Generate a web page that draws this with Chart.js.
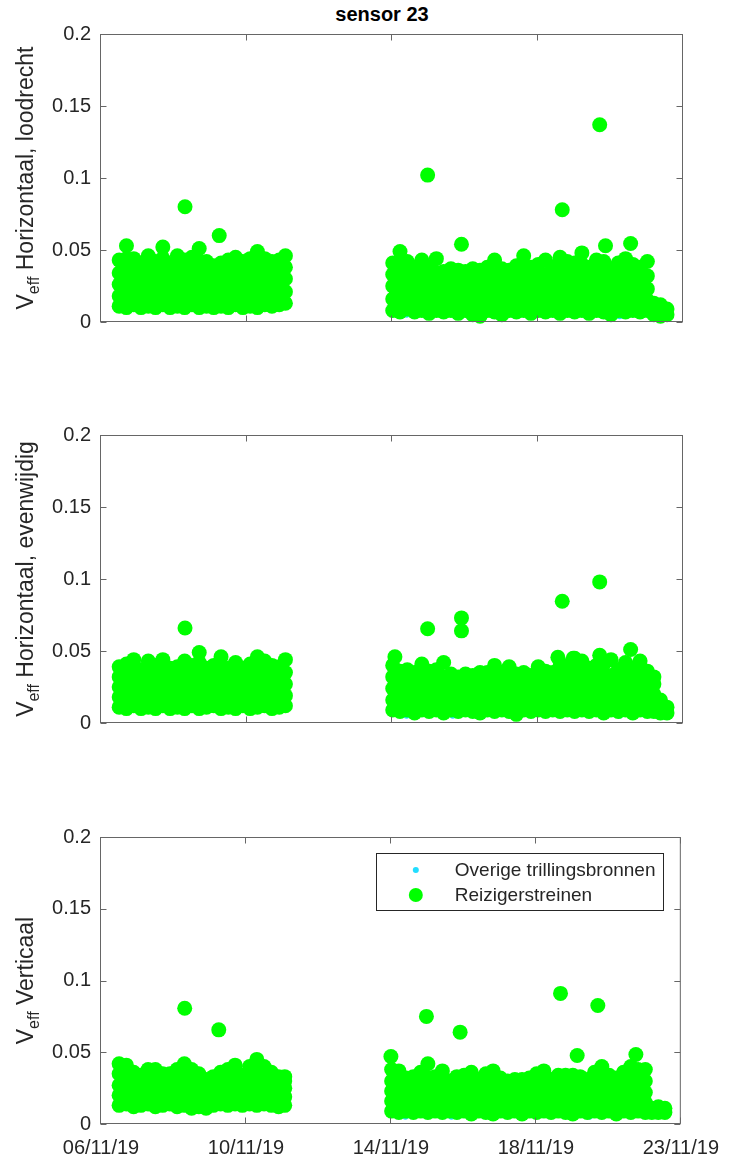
<!DOCTYPE html>
<html>
<head>
<meta charset="utf-8">
<script src="https://cdn.jsdelivr.net/npm/chart.js@4"></script>
<style>
  html, body { margin: 0; padding: 0; background: #fff; }
  #page { position: relative; width: 731px; height: 1160px; overflow: hidden; background: #fff; }
  #page canvas { position: absolute; left: 0; }
  #title { position: absolute; top: 3px; left: 91px; width: 582px; text-align: center;
           font: bold 20px "Liberation Sans", Arial, sans-serif; color: #000; }
</style>
</head>
<body>
<div id="page">
  <div id="title">sensor 23</div>
  <canvas id="c1" width="731" height="345" style="top:0px"></canvas>
  <canvas id="c2" width="731" height="345" style="top:400px"></canvas>
  <canvas id="c3" width="731" height="360" style="top:800px"></canvas>
</div>
<script>
// x axis: days since 06/11/19 00:00
const tickDays = [0, 4, 8, 12, 16];
const tickLabels = ["06/11/19", "10/11/19", "14/11/19", "18/11/19", "23/11/19"];
const yTicks = [0, 0.05, 0.1, 0.15, 0.2];

// times of the dense blocks of train passages (days)
const blockDays = [
  0.5, 0.7, 0.9, 1.1, 1.3, 1.5, 1.7, 1.9, 2.1, 2.3, 2.5, 2.7,
  2.9, 3.1, 3.3, 3.5, 3.7, 3.9, 4.1, 4.3, 4.5, 4.7, 4.9, 5.07,
  8.02, 8.22, 8.42, 8.62, 8.82, 9.02, 9.22, 9.42, 9.62, 9.82,
  10.02, 10.22, 10.42, 10.62, 10.82, 11.02, 11.22, 11.42, 11.62, 11.82,
  12.02, 12.22, 12.42, 12.62, 12.82, 13.02, 13.22, 13.42, 13.62, 13.82,
  14.02, 14.22, 14.42, 14.62, 14.82, 15.02, 15.2, 15.38, 15.56
];
// passages in between the block times (inside the dense band)
const innerDays = [
  0.6, 0.8, 1.0, 1.2, 1.4, 1.6, 1.8, 2.0, 2.2, 2.4, 2.6, 2.8,
  3.0, 3.2, 3.4, 3.6, 3.8, 4.0, 4.2, 4.4, 4.6, 4.8, 4.98,
  8.12, 8.32, 8.52, 8.72, 8.92, 9.12, 9.32, 9.52, 9.72, 9.92,
  10.12, 10.32, 10.52, 10.72, 10.92, 11.12, 11.32, 11.52, 11.72, 11.92,
  12.12, 12.32, 12.52, 12.72, 12.92, 13.12, 13.32, 13.52, 13.72, 13.92,
  14.12, 14.32, 14.52, 14.72, 14.92
];

// Veff values per block time, in thousandths (x1000)
const loodrecht = [
  [11,18,26,34,43], [10,18,27,36,44,53], [12,20,29,37,44], [10,17,27,35,41], [11,19,28,37,46], [10,18,26,34,42],
  [12,20,29,37,44,52], [10,17,25,33,40], [11,19,28,37,46], [10,18,27,36,43], [12,20,29,38,45], [10,18,26,34,42,51],
  [11,18,26,34,42], [10,17,25,32,39], [11,19,27,35,41], [10,18,27,36,43], [12,20,28,37,45], [10,18,26,34,42],
  [11,19,28,36,44], [10,18,26,34,42,49], [12,20,29,37,44], [11,19,27,35,42], [12,20,28,36,43], [13,21,30,38,46],
  [8,16,25,33,41], [7,15,23,31,40,49], [9,17,26,34,42], [7,15,23,31,38], [8,16,25,34,43], [6,14,22,30,38],
  [8,16,25,34,44], [7,14,21,28,35], [8,15,22,30,37], [6,13,21,29,36], [8,15,22,29,35], [5,13,21,29,37],
  [4,12,20,28,36], [8,15,23,31,38], [7,15,24,33,43], [5,13,21,29,37], [8,15,22,29,36], [7,14,22,30,39],
  [8,16,24,31,38,46], [6,14,22,30,38], [8,16,24,32,40], [7,15,24,33,43], [8,15,22,30,38], [6,14,22,30,38,45],
  [8,16,24,33,42], [7,15,23,32,41], [8,16,24,32,40,48], [6,14,22,30,38], [8,16,25,34,43], [7,15,24,33,42],
  [5,13,21,29,37], [8,16,24,33,41], [7,15,24,34,44], [8,16,24,32,40], [7,15,23,31,38], [8,15,23,32,42],
  [5,9,13], [4,8,12], [5,9]
];
const loodrechtInner = [
  [15,23,31], [14,22,31], [16,24,33], [15,22,30], [14,23,32], [16,24,32], [15,23,31], [14,22,30],
  [16,24,33], [15,23,32], [14,23,31], [16,24,32], [15,22,30], [14,22,30], [16,24,32], [15,23,31],
  [14,23,32], [16,24,32], [15,23,31], [14,23,32], [16,24,32], [15,23,31], [16,24,33],
  [12,19,27], [11,19,28], [12,20,27], [11,18,26], [12,20,28], [11,19,27], [12,19,27], [11,18,25],
  [12,19,26], [11,18,26], [12,19,26], [10,18,26], [11,19,27], [12,20,28], [10,18,26], [12,19,27],
  [11,19,27], [12,20,28], [11,19,27], [12,20,28], [11,19,28], [12,19,27], [11,20,28], [12,20,28],
  [11,19,28], [12,20,29], [11,19,27], [12,20,28], [11,19,28], [10,18,26], [12,20,28], [11,19,28],
  [12,20,28], [11,19,27], [12,19,27]
];
const evenwijdig = [
  [11,18,25,32,39], [10,17,25,33,41], [12,19,27,35,44], [10,17,24,31,37], [11,18,26,34,43], [10,17,25,33,40],
  [12,19,27,35,44], [10,17,24,31,38], [11,18,25,32,39], [10,17,25,34,43], [12,19,26,33,40], [10,18,26,34,42,49],
  [11,18,25,32,38], [12,19,26,33,40], [10,17,25,32,39,46], [11,18,25,32,38], [10,17,25,33,42], [12,19,26,32,38],
  [10,17,25,33,41], [11,18,25,32,39,46], [12,19,27,35,43], [10,17,25,33,40], [11,18,25,32,39], [12,19,27,35,44],
  [9,16,24,32,40], [8,15,22,29,36], [9,16,23,30,37], [7,14,21,28,35], [9,16,24,32,41], [8,15,22,29,36],
  [9,16,23,30,37], [7,15,23,32,42], [9,16,22,28,34], [8,14,20,26,32], [9,15,22,28,34], [8,15,21,27,33],
  [7,14,21,28,35], [9,15,22,29,35], [8,15,23,31,40], [9,16,23,29,35], [8,15,23,31,39], [6,13,20,27,34],
  [9,15,22,29,35], [8,14,20,26,33], [9,16,23,31,39], [8,15,22,29,36], [9,15,22,29,35], [8,15,23,32,40],
  [9,16,24,32,40], [8,16,24,32,39,45], [9,16,24,33,43], [8,15,23,31,38], [9,16,24,32,40], [7,15,23,32,41],
  [9,16,24,33,44], [8,15,22,30,37], [9,16,24,33,42], [7,14,22,30,38], [9,16,24,33,43], [8,15,22,29,36],
  [8,13,20,27,32], [7,11,16], [7,11]
];
const evenwijdigInner = [
  [14,21,29], [15,22,30], [14,22,30], [15,21,28], [14,22,30], [15,22,29], [14,21,29], [15,22,29],
  [14,21,29], [15,22,30], [14,22,30], [15,22,29], [14,21,28], [15,22,30], [14,21,29], [15,22,29],
  [14,21,29], [15,22,30], [14,22,30], [15,22,30], [14,21,29], [15,22,29], [14,22,30],
  [12,19,26], [11,18,25], [12,18,25], [12,19,27], [11,18,26], [12,19,26], [12,19,27], [11,17,24],
  [12,18,24], [11,17,24], [12,18,24], [11,18,25], [12,18,25], [12,19,26], [11,18,25], [12,19,26],
  [11,17,24], [12,18,25], [11,17,24], [12,19,26], [12,18,25], [11,18,25], [12,19,27], [12,19,27],
  [11,19,27], [12,19,26], [12,19,27], [11,18,26], [12,19,27], [11,18,25], [12,19,27], [11,18,26],
  [12,19,27], [11,18,25], [12,19,26]
];
const verticaal = [
  [13,20,27,35,42], [14,21,28,35,41], [12,18,24,30,36], [13,19,25,31,34], [14,21,28,34,38], [12,19,26,33,38],
  [13,19,25,31,35], [14,20,26,31,35], [12,19,26,33,38], [13,20,28,35,42], [11,18,25,32,38], [12,18,24,30,35],
  [11,17,23,29,31], [13,19,25,30,33], [14,20,26,32,36], [13,20,27,33,38], [14,21,28,35,41], [13,19,25,30,34],
  [14,21,28,35,40], [13,20,28,36,45], [14,21,28,35,40], [13,19,25,31,36], [12,18,24,29,33], [13,19,25,30,33],
  [9,16,23,30,38], [8,15,22,30,37], [9,15,21,27,32], [8,14,21,27,33], [9,16,23,30,36], [8,15,23,32,42],
  [9,15,21,27,33], [8,15,22,30,37], [9,15,21,26,30], [8,14,20,27,33], [9,15,21,28,34], [7,14,21,28,36],
  [9,15,21,27,31], [8,14,21,28,35], [7,14,22,30,37], [9,15,21,27,32], [8,14,20,26,30], [9,15,21,27,31],
  [7,14,20,26,31], [9,15,21,27,32], [8,14,21,28,35], [9,15,22,29,37], [8,14,20,26,31], [9,15,21,28,34],
  [8,15,22,28,34], [7,14,21,28,34], [9,15,21,27,33], [8,14,20,26,31], [9,15,22,29,36], [8,15,23,31,40],
  [9,15,22,28,34], [7,14,20,26,32], [9,15,22,29,36], [8,15,23,31,40], [9,15,22,30,38], [8,15,22,30,38],
  [8,11], [8,12], [8,11]
];
const verticaalInner = [
  [17,23,29], [16,23,29], [17,22,28], [17,23,28], [16,22,29], [17,23,29], [16,22,28], [17,23,28],
  [16,23,29], [17,23,29], [16,22,28], [17,22,27], [16,22,27], [17,23,28], [16,23,29], [17,23,29],
  [16,23,29], [17,23,29], [16,23,30], [17,23,29], [16,22,28], [17,22,27], [16,22,27],
  [12,18,25], [12,18,24], [11,17,24], [12,18,25], [11,18,25], [12,18,25], [12,18,24], [11,17,23],
  [12,17,23], [11,17,24], [12,18,24], [11,18,24], [12,18,24], [11,18,25], [12,18,24], [11,17,23],
  [12,17,23], [11,17,23], [12,17,24], [11,18,24], [12,18,25], [11,17,24], [12,18,24], [11,18,25],
  [12,18,24], [11,17,23], [12,18,25], [11,18,26], [12,18,25], [11,17,24], [12,18,25], [11,18,26],
  [12,18,25], [11,18,25], [12,18,25]
];

// isolated peaks (days, x1000)
const loodrechtPiekDagen = [2.31, 3.25, 8.98, 9.91, 12.68, 13.71, 13.87, 14.56];
const loodrechtPiek      = [80, 60, 102, 54, 78, 137, 53, 54.5];
const evenwijdigPiekDagen = [2.31, 8.08, 8.98, 9.91, 9.91, 12.56, 12.68, 12.98, 13.71, 13.71, 14.56];
const evenwijdigPiek      = [66, 46, 65.5, 73, 64, 45.6, 84.5, 45, 98, 47, 51];
const verticaalPiekDagen = [2.31, 3.25, 8.0, 8.98, 9.91, 12.68, 13.14, 13.71, 14.76];
const verticaalPiek      = [80.7, 65.6, 47, 75, 64, 91, 47.7, 82.6, 48.4];

// other vibration sources (mostly hidden under the train markers)
const overigeDagen = [8.4, 9.67, 13.48, 14.26, 15.3];
const overigeLoodrecht = [5, 6, 5, 4, 4];
const overigeEvenwijdig = [5, 5, 6, 5, 6];
const overigeVerticaal = [5, 5, 5, 5, 6];

const GREEN = "#00ff00";
const CYAN = "#22ddff";
const TEXT = "#262626";
const FONT = '"Liberation Sans", Arial, Helvetica, sans-serif';

function trainPoints(cols, inner, piekDagen, piek) {
    const pts = [];
    cols.forEach((col, i) => col.forEach(v => pts.push({ x: blockDays[i], y: v / 1000 })));
    inner.forEach((col, i) => col.forEach(v => pts.push({ x: innerDays[i], y: v / 1000 })));
    piekDagen.forEach((d, i) => pts.push({ x: d, y: piek[i] / 1000 }));
    return pts;
}

// box, inward ticks, y label with subscript, optional legend (MATLAB look)
const matlabAxes = {
    id: "matlabAxes",
    afterDraw(chart, args, opts) {
        const { ctx, chartArea: a } = chart;
        const xs = chart.scales.x, ys = chart.scales.y;
        ctx.save();
        ctx.strokeStyle = "#666666";
        ctx.lineWidth = 1;
        const L = a.left - 0.5, R = a.right - 0.5, T = a.top + 0.5, B = a.bottom - 0.5;
        ctx.strokeRect(L, T, R - L, B - T);
        ctx.beginPath();
        tickDays.forEach(d => {
            const px = Math.round(xs.getPixelForValue(d)) - 0.5;
            ctx.moveTo(px, B); ctx.lineTo(px, B - 6);
            ctx.moveTo(px, T); ctx.lineTo(px, T + 6);
        });
        yTicks.forEach(v => {
            const py = Math.round(ys.getPixelForValue(v)) + 0.5;
            ctx.moveTo(L, py); ctx.lineTo(L + 6, py);
            ctx.moveTo(R, py); ctx.lineTo(R - 6, py);
        });
        ctx.stroke();

        // y axis label: V_eff ...
        const big = "23px " + FONT, small = "16px " + FONT;
        ctx.fillStyle = TEXT;
        ctx.translate(opts.labelX, (a.top + a.bottom) / 2);
        ctx.rotate(-Math.PI / 2);
        ctx.textBaseline = "alphabetic";
        ctx.textAlign = "left";
        const rest = " " + opts.label;
        ctx.font = big;
        const wV = ctx.measureText("V").width, wR = ctx.measureText(rest).width;
        ctx.font = small;
        const wS = ctx.measureText("eff").width;
        const x0 = -(wV + wS + wR) / 2;
        ctx.font = big; ctx.fillText("V", x0, 0);
        ctx.font = small; ctx.fillText("eff", x0 + wV, 6);
        ctx.font = big; ctx.fillText(rest, x0 + wV + wS, 0);
        ctx.restore();

        if (opts.legend) {
            const w = 287, h = 57;
            const bx = a.right - 18 - w, by = a.top + 16;
            ctx.save();
            ctx.fillStyle = "#fff";
            ctx.fillRect(bx, by, w, h);
            ctx.strokeStyle = "#262626";
            ctx.lineWidth = 1;
            ctx.strokeRect(Math.round(bx) + 0.5, Math.round(by) + 0.5, w, h);
            const sets = chart.data.datasets;
            const rows = [sets[0], sets[1]];
            rows.forEach((ds, i) => {
                const cy = by + 17 + i * 25;
                ctx.beginPath();
                ctx.fillStyle = ds.backgroundColor;
                ctx.arc(bx + 40, cy, Math.min(ds.pointRadius, 7), 0, Math.PI * 2);
                ctx.fill();
                ctx.fillStyle = TEXT;
                ctx.font = "19px " + FONT;
                ctx.textBaseline = "middle";
                ctx.fillText(ds.label, bx + 79, cy + 1);
            });
            ctx.restore();
        }
    }
};

function makeChart(id, cols, inner, piekDagen, piek, overige, cfg) {
    return new Chart(document.getElementById(id), {
        type: "scatter",
        data: {
            datasets: [{
                label: "Overige trillingsbronnen",
                data: overigeDagen.map((d, i) => ({ x: d, y: overige[i] / 1000 })),
                backgroundColor: CYAN,
                borderWidth: 0,
                pointRadius: 3,
                clip: false,
                order: 2
            }, {
                label: "Reizigerstreinen",
                data: trainPoints(cols, inner, piekDagen, piek),
                backgroundColor: GREEN,
                borderWidth: 0,
                pointRadius: 7.5,
                clip: false,
                order: 1
            }]
        },
        options: {
            responsive: false,
            animation: false,
            events: [],
            layout: { padding: { top: cfg.top, right: 48, left: 0, bottom: 0 } },
            plugins: {
                legend: { display: false },
                tooltip: { enabled: false },
                matlabAxes: { label: cfg.label, labelX: 33, legend: cfg.legend }
            },
            scales: {
                x: {
                    type: "linear",
                    min: 0,
                    max: 16,
                    afterFit: s => { s.height = cfg.xh; },
                    grid: { display: false, drawTicks: false },
                    border: { display: false },
                    ticks: {
                        display: cfg.showX,
                        stepSize: 4,
                        autoSkip: false,
                        maxRotation: 0,
                        padding: 12,
                        color: TEXT,
                        font: { family: FONT, size: 20 },
                        callback: v => tickLabels[tickDays.indexOf(v)]
                    }
                },
                y: {
                    min: 0,
                    max: 0.2,
                    afterFit: s => { s.width = 101; },
                    grid: { display: false, drawTicks: false },
                    border: { display: false },
                    ticks: {
                        stepSize: 0.05,
                        padding: 10,
                        color: TEXT,
                        font: { family: FONT, size: 20 },
                        callback: v => String(+v.toFixed(2))
                    }
                }
            }
        },
        plugins: [matlabAxes]
    });
}

makeChart("c1", loodrecht, loodrechtInner, loodrechtPiekDagen, loodrechtPiek, overigeLoodrecht,
    { top: 34, xh: 23, showX: false, label: "Horizontaal, loodrecht", legend: false });
makeChart("c2", evenwijdig, evenwijdigInner, evenwijdigPiekDagen, evenwijdigPiek, overigeEvenwijdig,
    { top: 35, xh: 22, showX: false, label: "Horizontaal, evenwijdig", legend: false });
makeChart("c3", verticaal, verticaalInner, verticaalPiekDagen, verticaalPiek, overigeVerticaal,
    { top: 37, xh: 36, showX: true, label: "Verticaal", legend: true });
</script>
</body>
</html>
